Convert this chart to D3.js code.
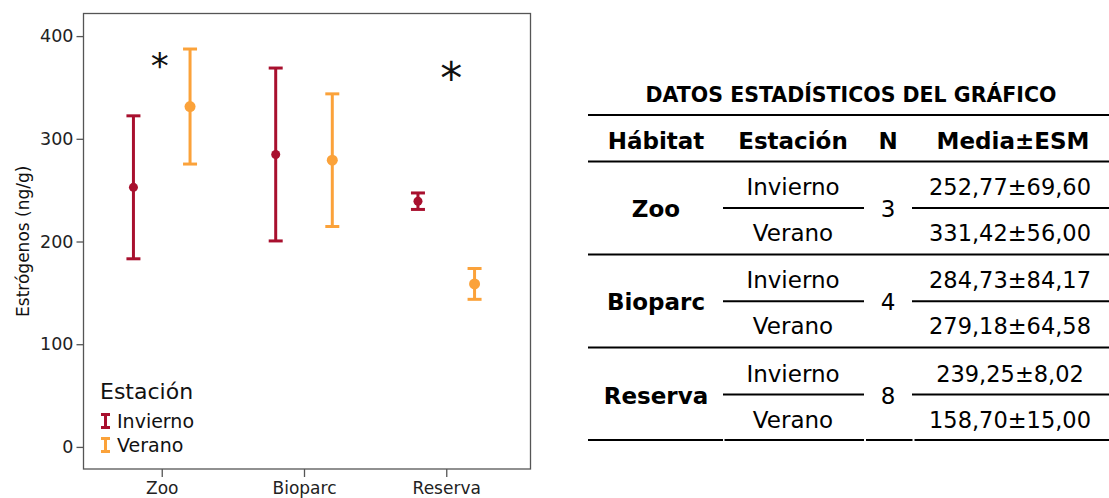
<!DOCTYPE html>
<html>
<head>
<meta charset="utf-8">
<script src="https://cdn.jsdelivr.net/npm/d3@7"></script>
<style>
  body { margin: 0; background: #fff; }
  svg { display: block; font-family: "DejaVu Sans", Verdana, sans-serif; }
</style>
</head>
<body>
<svg id="grafico" width="1109" height="498"></svg>
<script>
// datos
var habitats = ['Zoo', 'Bioparc', 'Reserva'];
var estaciones = ['Invierno', 'Verano'];
var nMuestras = [3, 4, 8];
var mediaInvierno = [252.77, 284.73, 239.25];
var esmInvierno = [69.60, 84.17, 8.02];
var mediaVerano = [331.42, 279.18, 158.70];
var esmVerano = [56.00, 64.58, 15.00];
var textoInvierno = ['252,77±69,60', '284,73±84,17', '239,25±8,02'];
var textoVerano = ['331,42±56,00', '279,18±64,58', '158,70±15,00'];
var yTicks = [0, 100, 200, 300, 400];
// asteriscos de significancia (habitat, altura en ng/g)
var significativos = [['Zoo', 377], ['Reserva', 363]];

var colores = { 'Invierno': '#a8102e', 'Verano': '#fba23a' };

var svg = d3.select('#grafico');

// ---------- grafico ----------
var izq = 83.5, der = 530.5, arriba = 13.5, abajo = 469;

var x = d3.scalePoint().domain(habitats).range([izq, der - 6]).padding(0.55);
var desplaz = d3.scalePoint().domain(estaciones).range([-28.3, 28.3]);
var y = d3.scaleLinear().domain([-21.5, 422]).range([abajo, arriba]);

var puntos = [];
habitats.forEach(function(h, i) {
    puntos.push({ hab: h, est: 'Invierno', media: mediaInvierno[i], esm: esmInvierno[i] });
    puntos.push({ hab: h, est: 'Verano', media: mediaVerano[i], esm: esmVerano[i] });
});

// marco
svg.append('rect')
    .attr('x', izq).attr('y', arriba)
    .attr('width', der - izq).attr('height', abajo - arriba)
    .attr('fill', 'none').attr('stroke', '#555').attr('stroke-width', 1.3);

// eje y
var ejeY = svg.append('g')
    .attr('transform', 'translate(' + izq + ',0)')
    .call(d3.axisLeft(y).tickValues(yTicks).tickSize(7).tickPadding(3));
ejeY.select('.domain').remove();
ejeY.selectAll('line').attr('stroke', '#555').attr('stroke-width', 1.3);
ejeY.selectAll('text').attr('fill', '#222').style('font-size', '17.5px')
    .style('font-family', '"DejaVu Sans", sans-serif');

// eje x
var ejeX = svg.append('g')
    .attr('transform', 'translate(0,' + abajo + ')')
    .call(d3.axisBottom(x).tickSize(8).tickPadding(5));
ejeX.select('.domain').remove();
ejeX.selectAll('line').attr('stroke', '#555').attr('stroke-width', 1.3);
ejeX.selectAll('text').attr('fill', '#222').style('font-size', '17px')
    .style('font-family', '"DejaVu Sans", sans-serif');

// titulo eje y
svg.append('text')
    .attr('transform', 'translate(29,' + ((arriba + abajo) / 2) + ') rotate(-90)')
    .attr('text-anchor', 'middle')
    .style('font-size', '17px')
    .attr('fill', '#111')
    .text('Estrógenos (ng/g)');

// barras de error
var barras = svg.selectAll('.barra')
    .data(puntos)
    .enter().append('g')
    .attr('class', 'barra')
    .attr('transform', function(d) { return 'translate(' + (x(d.hab) + desplaz(d.est)) + ',0)'; })
    .attr('stroke', function(d) { return colores[d.est]; })
    .attr('fill', function(d) { return colores[d.est]; })
    .attr('stroke-width', 3);

barras.append('line')
    .attr('x1', 0).attr('x2', 0)
    .attr('y1', function(d) { return y(d.media + d.esm); })
    .attr('y2', function(d) { return y(d.media - d.esm); });
barras.append('line')
    .attr('x1', -7).attr('x2', 7)
    .attr('y1', function(d) { return y(d.media + d.esm); })
    .attr('y2', function(d) { return y(d.media + d.esm); });
barras.append('line')
    .attr('x1', -7).attr('x2', 7)
    .attr('y1', function(d) { return y(d.media - d.esm); })
    .attr('y2', function(d) { return y(d.media - d.esm); });
barras.append('circle')
    .attr('cx', 0)
    .attr('cy', function(d) { return y(d.media); })
    .attr('r', function(d) { return d.est == 'Invierno' ? 4.5 : 5.5; })
    .attr('stroke', 'none');

// asteriscos
svg.selectAll('.asterisco')
    .data(significativos)
    .enter().append('text')
    .attr('class', 'asterisco')
    .attr('x', function(d, i) { return x(d[0]) + (i ? 5 : -2); })
    .attr('y', function(d, i) { return y(d[1]) + (i ? 20 : 18); })
    .attr('text-anchor', 'middle')
    .style('font-size', function(d, i) { return i ? '44px' : '36px'; })
    .attr('fill', '#111')
    .text('*');

// leyenda
var leyenda = svg.append('g');
leyenda.append('text')
    .attr('x', 100).attr('y', 399)
    .style('font-size', '22px').attr('fill', '#111')
    .text('Estación');
var itemLeyenda = leyenda.selectAll('.item')
    .data(estaciones)
    .enter().append('g')
    .attr('class', 'item')
    .attr('transform', function(d, i) { return 'translate(0,' + (428 + i * 24) + ')'; });
itemLeyenda.append('path')
    .attr('d', 'M101,-13.5H110M105.5,-13.5V-0.5M101,-0.5H110')
    .attr('fill', 'none')
    .attr('stroke', function(d) { return colores[d]; })
    .attr('stroke-width', 3);
itemLeyenda.append('text')
    .attr('x', 117).attr('y', 0)
    .style('font-size', '19px').attr('fill', '#111')
    .text(function(d) { return d; });

// ---------- tabla ----------
var tabla = svg.append('g').attr('fill', '#000');

tabla.append('text')
    .attr('x', 851).attr('y', 101.5)
    .attr('text-anchor', 'middle')
    .style('font-size', '20.5px').style('font-weight', 'bold')
    .text('DATOS ESTADÍSTICOS DEL GRÁFICO');

var colX = [656, 793, 888, 1010];
var cabeceras = ['Hábitat', 'Estación', 'N', 'Media±ESM'];

tabla.selectAll('.cabecera')
    .data(cabeceras)
    .enter().append('text')
    .attr('class', 'cabecera')
    .attr('x', function(d, i) { return i == 3 ? 1013 : colX[i]; })
    .attr('y', 148.5)
    .attr('text-anchor', 'middle')
    .style('font-size', '23px').style('font-weight', 'bold')
    .text(function(d) { return d; });

var filaAlto = 93.3;
var grupo = tabla.selectAll('.grupo')
    .data(habitats)
    .enter().append('g')
    .attr('class', 'grupo')
    .attr('transform', function(d, i) { return 'translate(0,' + (i * filaAlto) + ')'; });

grupo.append('text')
    .attr('x', colX[0]).attr('y', 217)
    .attr('text-anchor', 'middle')
    .style('font-size', '23px').style('font-weight', 'bold')
    .text(function(d) { return d; });

grupo.append('text')
    .attr('x', colX[2]).attr('y', 217)
    .attr('text-anchor', 'middle')
    .style('font-size', '23px')
    .text(function(d, i) { return nMuestras[i]; });

estaciones.forEach(function(e, j) {
    grupo.append('text')
        .attr('x', colX[1]).attr('y', 195 + j * 46)
        .attr('text-anchor', 'middle')
        .style('font-size', '23px')
        .text(e);
    grupo.append('text')
        .attr('x', colX[3]).attr('y', 195 + j * 46)
        .attr('text-anchor', 'middle')
        .style('font-size', '22.5px')
        .text(function(d, i) { return j == 0 ? textoInvierno[i] : textoVerano[i]; });
});

// lineas internas
grupo.append('line')
    .attr('x1', 723).attr('x2', 864).attr('y1', 208).attr('y2', 208)
    .attr('stroke', '#000').attr('stroke-width', 2);
grupo.append('line')
    .attr('x1', 912).attr('x2', 1109).attr('y1', 208).attr('y2', 208)
    .attr('stroke', '#000').attr('stroke-width', 2);

// lineas horizontales completas
[115, 161.5, 254.5, 347.5].forEach(function(yy) {
    tabla.append('line')
        .attr('x1', 588).attr('x2', 1109).attr('y1', yy).attr('y2', yy)
        .attr('stroke', '#000').attr('stroke-width', 2.2);
});
// linea final con cortes
[[588, 723], [724.5, 864], [866, 912.5], [914.5, 1109]].forEach(function(s) {
    tabla.append('line')
        .attr('x1', s[0]).attr('x2', s[1]).attr('y1', 440).attr('y2', 440)
        .attr('stroke', '#000').attr('stroke-width', 2.2);
});
</script>
</body>
</html>
